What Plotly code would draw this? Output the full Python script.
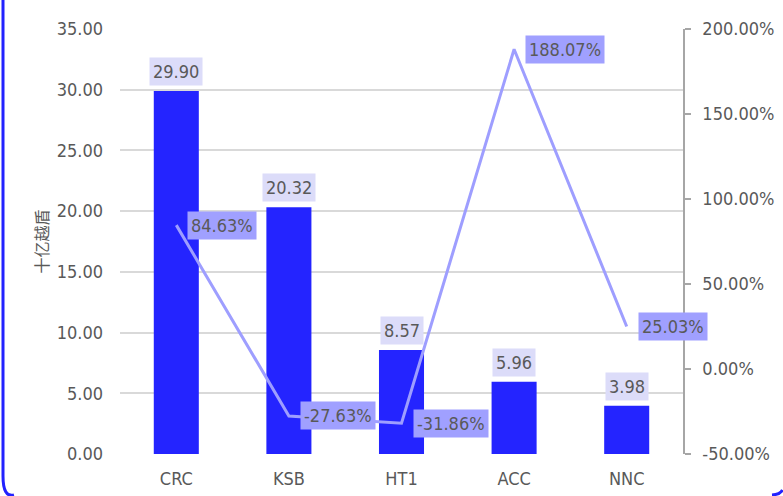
import plotly.graph_objects as go

categories = ["CRC", "KSB", "HT1", "ACC", "NNC"]
values_bn = [29.90, 20.32, 8.57, 5.96, 3.98]
growth_pct = [84.63, -27.63, -31.86, 188.07, 25.03]
left_ticks = [0, 5, 10, 15, 20, 25, 30, 35]
right_ticks = [-50, 0, 50, 100, 150, 200]
y_title = "十亿越盾"

W, H = 783, 496
ML, MR, MT, MB = 120, 100, 29, 42
PW, PH = W - ML - MR, H - MT - MB

FONT = "DejaVu Sans Condensed, DejaVu Sans, sans-serif"
FS = 18
TXT = "#595959"
BAR = "#2424FF"
LINE = "#9E9EFF"

fig = go.Figure()
fig.add_trace(go.Bar(x=categories, y=values_bn, marker=dict(color=BAR, line=dict(width=0)),
                     showlegend=False, hoverinfo="x+y"))
fig.add_trace(go.Scatter(x=categories, y=growth_pct, yaxis="y2", mode="lines",
                         line=dict(color=LINE, width=3), showlegend=False))

ann = []
for c, v in zip(categories, values_bn):
    ann.append(dict(x=c, y=v, xref="x", yref="y", text=f"{v:.2f}", showarrow=False,
                    xanchor="center", yanchor="bottom", yshift=5,
                    bgcolor="#DCDCF9", borderpad=3, font=dict(size=FS, color=TXT, family=FONT)))
for c, g in zip(categories, growth_pct):
    ann.append(dict(x=c, y=g, xref="x", yref="y2", text=f"{g:.2f}%", showarrow=False,
                    xanchor="left", yanchor="middle", xshift=11,
                    bgcolor="#A0A0FF", borderpad=3, font=dict(size=FS, color=TXT, family=FONT)))

def px(x):
    return (x - ML) / PW

def py(y):
    return (H - MB - y) / PH

# outer frame (only left edge and bottom corners are inside the window)
path = (f"M {px(3)},{py(0)} L {px(3)},{py(476)} "
        f"Q {px(3)},{py(498)} {px(14)},{py(495)} "
        f"M {px(772)},{py(495)} Q {px(780)},{py(494.5)} {px(782.5)},{py(490)}")

fig.update_layout(
    width=W, height=H,
    margin=dict(l=ML, r=MR, t=MT, b=MB),
    paper_bgcolor="white", plot_bgcolor="white",
    font=dict(family=FONT, size=FS, color=TXT),
    bargap=0.6,
    annotations=ann,
    shapes=[dict(type="path", xref="paper", yref="paper", path=path,
                 line=dict(color="#2222FF", width=3), layer="above")],
    xaxis=dict(type="category", range=[-0.5, len(categories) - 0.5], automargin=False,
               showline=False, showgrid=False, ticks="",
               ticklabelstandoff=12, tickfont=dict(size=FS, color=TXT)),
    yaxis=dict(range=[0, 35], tickvals=left_ticks, automargin=True,
               ticktext=[f"{v:.2f}" for v in left_ticks],
               showgrid=True, gridcolor="#D9D9D9", gridwidth=1.5, zeroline=False,
               showline=False, ticks="", ticklabelstandoff=16,
               tickfont=dict(size=FS, color=TXT),
               title=dict(text=y_title, standoff=4,
                          font=dict(size=16, color=TXT,
                                    family="Noto Sans CJK SC, " + FONT))),
    yaxis2=dict(range=[-50, 200], tickvals=right_ticks, automargin=False,
                ticktext=[f"{v:.2f}%" for v in right_ticks],
                overlaying="y", side="right", showgrid=False, zeroline=False,
                showline=True, linecolor="#A6A6A6", linewidth=1.5,
                ticks="outside", ticklen=6, tickcolor="#A6A6A6", tickwidth=1.5,
                ticklabelstandoff=8, tickfont=dict(size=FS, color=TXT)),
)

fig.write_html("out.html", config={"displayModeBar": False},
               post_script="document.body.style.margin='0px';")
